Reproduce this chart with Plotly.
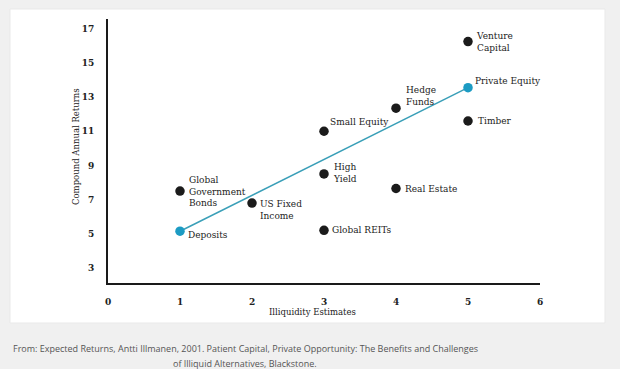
import plotly.graph_objects as go

# ---- data ----
asset_names = ["Global\nGovernment\nBonds", "Deposits", "US Fixed\nIncome", "High\nYield",
               "Global REITs", "Small Equity", "Real Estate", "Hedge\nFunds",
               "Private Equity", "Timber", "Venture\nCapital"]
illiquidity = [1, 1, 2, 3, 3, 3, 4, 4, 5, 5, 5]
returns = [7.5, 5.15, 6.8, 8.5, 5.2, 11.0, 7.65, 12.35, 13.55, 11.6, 16.25]
highlight = [False, True, False, False, False, False, False, False, True, False, False]

x_ticks = [0, 1, 2, 3, 4, 5, 6]
y_ticks = [3, 5, 7, 9, 11, 13, 15, 17]

# ---- styles ----
BLACK = "#1b1b1b"
TEAL = "#1c9bc3"
LINE_TEAL = "#3a9fb8"
SERIF = "DejaVu Serif"
# label offsets (pixels) relative to marker: (xshift, yshift, yanchor)
label_style = {
    "Global\nGovernment\nBonds": (7, 0, "middle"),
    "Deposits": (6, -4, "middle"),
    "US Fixed\nIncome": (6, 0, "top"),
    "High\nYield": (7, 1, "middle"),
    "Global REITs": (6, 0, "middle"),
    "Small Equity": (4, 9, "middle"),
    "Real Estate": (7, 0, "middle"),
    "Hedge\nFunds": (8, 12, "middle"),
    "Private Equity": (5, 7, "middle"),
    "Timber": (8, 0, "middle"),
    "Venture\nCapital": (6, 7, "top"),
}

fig = go.Figure()

# trend line between Deposits and Private Equity
i0 = asset_names.index("Deposits")
i1 = asset_names.index("Private Equity")
fig.add_trace(go.Scatter(
    x=[illiquidity[i0], illiquidity[i1]], y=[returns[i0], returns[i1]],
    mode="lines", line=dict(color=LINE_TEAL, width=1.5), hoverinfo="skip", showlegend=False))

fig.add_trace(go.Scatter(
    x=illiquidity, y=returns, mode="markers",
    marker=dict(size=9.5, color=[TEAL if h else BLACK for h in highlight], line=dict(width=0)),
    text=[n.replace("\n", " ") for n in asset_names], hoverinfo="text", showlegend=False))

annotations = []
for name, xv, yv in zip(asset_names, illiquidity, returns):
    xs, ys, ya = label_style[name]
    if ya == "top":
        ys += 6
    annotations.append(dict(
        x=xv, y=yv, xref="x", yref="y", text=name.replace("\n", "<br>"),
        showarrow=False, xanchor="left", yanchor=ya, align="left",
        xshift=xs, yshift=ys, font=dict(family=SERIF, size=9, color="#222")))

# axis titles
annotations.append(dict(
    x=(312 - 108) / 432, y=(283 - 312) / 264, xref="paper", yref="paper",
    text="Illiquidity Estimates", showarrow=False, xanchor="center", yanchor="middle",
    font=dict(family=SERIF, size=8.5, color="#222")))
annotations.append(dict(
    x=(76 - 108) / 432, y=(283 - 147) / 264, xref="paper", yref="paper",
    text="Compound Annual Returns", showarrow=False, xanchor="center", yanchor="middle",
    textangle=-90, font=dict(family=SERIF, size=8.5, color="#222")))

# caption
cap1 = "From: Expected Returns, Antti Illmanen, 2001. Patient Capital, Private Opportunity: The Benefits and Challenges"
cap2 = "of Illiquid Alternatives, Blackstone."
for txt, py in [(cap1, 348), (cap2, 363)]:
    annotations.append(dict(
        x=(245 - 108) / 432, y=(283 - py) / 264, xref="paper", yref="paper",
        text=txt, showarrow=False, xanchor="center", yanchor="middle",
        font=dict(family="Open Sans", size=9, color="#555555")))

fig.update_layout(
    width=620, height=369,
    margin=dict(l=108, r=80, t=19, b=86),
    paper_bgcolor="#f0f0f0", plot_bgcolor="rgba(0,0,0,0)",
    annotations=annotations,
    shapes=[dict(type="rect", xref="paper", yref="paper",
                 x0=(10 - 108) / 432, x1=(605 - 108) / 432,
                 y0=(283 - 323) / 264, y1=(283 - 9) / 264,
                 fillcolor="white", line=dict(color="#e9e9e9", width=1), layer="below")],
    xaxis=dict(range=[0, 6], tickvals=x_ticks, showgrid=False, zeroline=False,
               showline=True, linecolor="#1a1a1a", linewidth=2,
               ticks="", ticklabelstandoff=9,
               tickfont=dict(family=SERIF, size=9, color="#222", weight="bold")),
    yaxis=dict(range=[2.12, 17.57], tickvals=y_ticks, showgrid=False, zeroline=False,
               showline=True, linecolor="#1a1a1a", linewidth=2,
               ticks="", ticklabelstandoff=10,
               tickfont=dict(family=SERIF, size=9, color="#222", weight="bold")),
)

fig.write_html("out.html", config={"displayModeBar": False},
               post_script="document.body.style.margin='0';document.body.style.overflow='hidden';"
                           "document.body.style.background='#f0f0f0';")
